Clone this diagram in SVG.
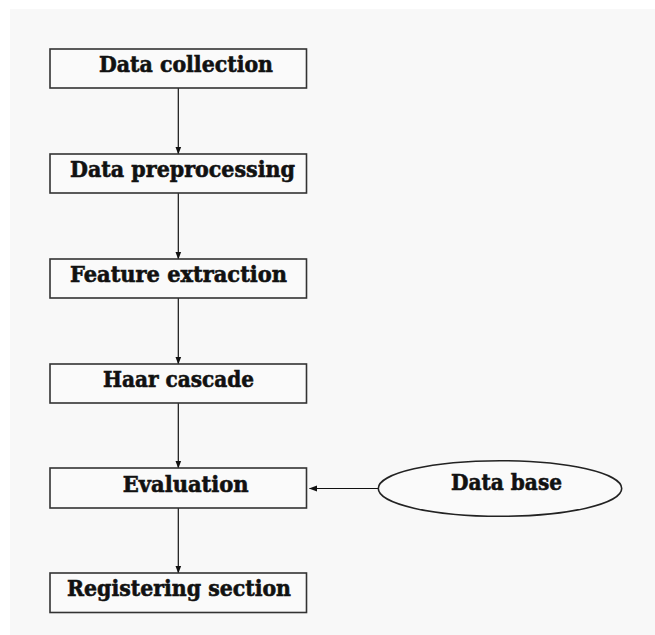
<svg xmlns="http://www.w3.org/2000/svg" width="655" height="635" viewBox="0 0 655 635">
  <defs>
    <marker id="arrow" viewBox="0 0 8 8" refX="7.5" refY="4" markerWidth="8" markerHeight="8" markerUnits="userSpaceOnUse" orient="auto">
      <path d="M0,1 L8,4 L0,7 Z" fill="#111"/>
    </marker>
    <style>
      .box { fill: #fafafa; stroke: #333; stroke-width: 1.6; }
      .oval { fill: #fafafa; stroke: #222; stroke-width: 1.6; }
      .label { font-family: "DejaVu Serif", "Liberation Serif", serif; font-weight: bold; font-size: 22px; fill: #111; stroke: #111; stroke-width: 0.6; }
      .link { stroke: #111; stroke-width: 1.2; fill: none; marker-end: url(#arrow); }
    </style>
  </defs>

  <!-- page background -->
  <rect x="0" y="0" width="655" height="635" fill="#ffffff"/>
  <rect x="10" y="9" width="645" height="626" fill="#f8f8f8"/>

  <g id="connectors">
    <line class="link" x1="178.3" y1="88" x2="178.3" y2="154"/>
    <line class="link" x1="178.3" y1="193" x2="178.3" y2="259"/>
    <line class="link" x1="178.3" y1="298" x2="178.3" y2="364"/>
    <line class="link" x1="178.3" y1="403" x2="178.3" y2="468"/>
    <line class="link" x1="178.3" y1="508" x2="178.3" y2="573"/>
    <line class="link" x1="378.3" y1="488.5" x2="309.5" y2="488.5"/>
  </g>

  <g id="data-collection">
    <rect class="box" x="50" y="49" width="256.5" height="39"/>
    <text class="label" x="99" y="72.3" textLength="174" lengthAdjust="spacingAndGlyphs">Data collection</text>
  </g>

  <g id="data-preprocessing">
    <rect class="box" x="50" y="154" width="256.5" height="39"/>
    <text class="label" x="70" y="177.3" textLength="225" lengthAdjust="spacingAndGlyphs">Data preprocessing</text>
  </g>

  <g id="feature-extraction">
    <rect class="box" x="50" y="259" width="256.5" height="39"/>
    <text class="label" x="70" y="282" textLength="217" lengthAdjust="spacingAndGlyphs">Feature extraction</text>
  </g>

  <g id="haar-cascade">
    <rect class="box" x="50" y="364" width="256.5" height="39"/>
    <text class="label" x="103" y="386.5" textLength="151" lengthAdjust="spacingAndGlyphs">Haar cascade</text>
  </g>

  <g id="evaluation">
    <rect class="box" x="50" y="468" width="256.5" height="40"/>
    <text class="label" x="122.7" y="491.7" textLength="126" lengthAdjust="spacingAndGlyphs">Evaluation</text>
  </g>

  <g id="registering-section">
    <rect class="box" x="50" y="573" width="256.5" height="39.5"/>
    <text class="label" x="67" y="596" textLength="224" lengthAdjust="spacingAndGlyphs">Registering section</text>
  </g>

  <g id="data-base">
    <ellipse class="oval" cx="500" cy="488.5" rx="121.7" ry="27.8"/>
    <text class="label" x="451" y="490" textLength="111" lengthAdjust="spacingAndGlyphs">Data base</text>
  </g>
</svg>
